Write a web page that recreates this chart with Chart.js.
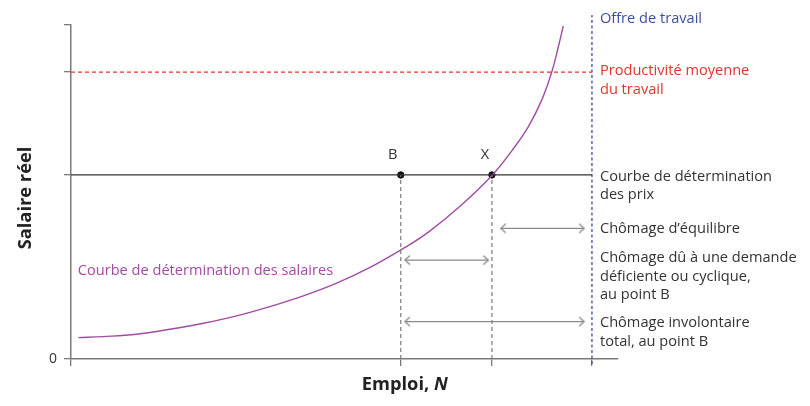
<!DOCTYPE html>
<html><head><meta charset="utf-8">
<script src="https://cdn.jsdelivr.net/npm/chart.js@4/dist/chart.umd.min.js"></script>
<style>html,body{margin:0;padding:0;background:#fff}#wrap{width:810px;height:406px;position:relative}</style>
</head><body><div id="wrap"><canvas id="c"></canvas></div>
<script>
// Wage-setting curve
const wageX = [1.4, 6.2, 12.6, 19.0, 25.4, 31.8, 38.2, 44.6, 51.0, 57.4, 63.8, 68.6, 75.0, 80.9, 84.6, 87.8, 90.35, 92.3, 93.55, 94.5];
const wageY = [6.4, 6.7, 7.4, 8.9, 10.7, 12.9, 15.7, 18.9, 22.7, 27.4, 33.1, 38.0, 46.2, 55.1, 62.3, 69.6, 77.5, 86.0, 93.5, 99.7];
const priceSettingWage = 55.1;
const avgProductivity = 85.9;
const laborSupply = 100;
const employmentB = 63.3;
const employmentX = 80.8;
const yTickValues = [0, 55.1, 85.9, 100];
const xTickValues = [0, 63.3, 80.8, 100];
const arrowFrom = [82.5, 64.1, 64.1];
const arrowTo = [98.5, 80.1, 98.5];
const arrowY = [39.1, 29.6, 11.2];
const rightLabels = [
  ["Chômage d’équilibre"],
  ["Chômage dû à une demande", "déficiente ou cyclique,", "au point B"],
  ["Chômage involontaire", "total, au point B"]
];

const FONT = '"Open Sans", "Noto Sans", sans-serif';
const GREY = '#7a7a7a';
const PURPLE = '#a24ba3';
const RED = '#e3342c';
const BLUE = '#3d4ea0';
const DARK = '#333333';

function chevron(){
  const c = document.createElement('canvas');
  c.width = 16; c.height = 12;
  const g = c.getContext('2d');
  g.strokeStyle = '#8a8a8a'; g.lineWidth = 1.3;
  g.beginPath(); g.moveTo(3, 1.5); g.lineTo(8, 6); g.lineTo(3, 10.5); g.stroke();
  return c;
}
const chev = chevron();

const datasets = [];
// price-setting curve
datasets.push({data:[{x:0,y:priceSettingWage},{x:laborSupply,y:priceSettingWage}], showLine:true, borderColor:DARK, borderWidth:1.3, pointRadius:0});
// average productivity
datasets.push({data:[{x:0,y:avgProductivity},{x:laborSupply,y:avgProductivity}], showLine:true, borderColor:RED, borderWidth:1.2, borderDash:[4,3], pointRadius:0});
// labour supply
datasets.push({data:[{x:laborSupply,y:-1.5},{x:laborSupply,y:103}], showLine:true, borderColor:BLUE, borderWidth:1.3, borderDash:[3,2.5], pointRadius:0, clip:false});
// vertical guides at B and X
[employmentB, employmentX].forEach(v=>{
  datasets.push({data:[{x:v,y:0},{x:v,y:priceSettingWage}], showLine:true, borderColor:GREY, borderWidth:1.2, borderDash:[4,3], pointRadius:0});
});
// arrows
arrowY.forEach((y,i)=>{
  datasets.push({data:[{x:arrowFrom[i],y},{x:arrowTo[i],y}], showLine:true, borderColor:'#8a8a8a', borderWidth:1.2,
    pointStyle:chev, pointRadius:6, pointRotation:[180,0], pointHoverRadius:6});
});
// wage-setting curve
datasets.push({data:wageX.map((x,i)=>({x,y:wageY[i]})), showLine:true, borderColor:PURPLE, borderWidth:1.4, pointRadius:0, tension:0.4});
// points B and X
datasets.push({data:[{x:employmentB,y:priceSettingWage},{x:employmentX,y:priceSettingWage}], showLine:false, pointRadius:3.2, pointBackgroundColor:'#111', pointBorderColor:'#111'});

const textPlugin = {
  id:'texts',
  afterDatasetsDraw(chart){
    const ctx = chart.ctx, xs = chart.scales.x, ys = chart.scales.y;
    ctx.save();
    ctx.textBaseline = 'middle';
    const lx = xs.getPixelForValue(laborSupply) + 8;
    const put = (t, x, y, color, font, align) => { ctx.fillStyle = color; ctx.font = font; ctx.textAlign = align || 'left'; ctx.fillText(t, x, y); };
    const f = '14.6px ' + FONT;
    const lh = 18.3;
    put('Offre de travail', lx, ys.getPixelForValue(101.8), BLUE, f);
    const py = ys.getPixelForValue(avgProductivity);
    put('Productivité moyenne', lx, py - 1, RED, f);
    put('du travail', lx, py - 1 + lh, RED, f);
    const cy = ys.getPixelForValue(priceSettingWage);
    put('Courbe de détermination', lx, cy + 1.5, DARK, f);
    put('des prix', lx, cy + 1.5 + lh, DARK, f);
    rightLabels.forEach((lines, i)=>{
      const y0 = ys.getPixelForValue(arrowY[i]);
      const start = i===1 ? y0 - 2 : (i===2 ? y0 + 1.6 : y0);
      lines.forEach((t,j)=> put(t, lx, start + j*lh, DARK, f));
    });
    put('B', xs.getPixelForValue(employmentB) - 8, cy - 20, DARK, f, 'center');
    put('X', xs.getPixelForValue(employmentX) - 7, cy - 20, DARK, f, 'center');
    put('Courbe de détermination des salaires', xs.getPixelForValue(1.3), ys.getPixelForValue(26.4), PURPLE, f);
    // axis titles
    const tf = 'bold 18.3px ' + FONT, tfi = 'italic bold 18.3px ' + FONT;
    ctx.font = tf;
    ctx.fillStyle = '#222';
    const ey = 385;
    const ex = (xs.getPixelForValue(63.3) + 4);
    const w1 = ctx.measureText('Emploi, ').width;
    ctx.font = tfi;
    const w2 = ctx.measureText('N').width;
    const sx = ex - (w1 + w2)/2;
    ctx.font = tf; ctx.textAlign = 'left';
    ctx.fillText('Emploi, ', sx, ey);
    ctx.font = tfi;
    ctx.fillText('N', sx + w1, ey);
    ctx.translate(26, 198);
    ctx.rotate(-Math.PI/2);
    ctx.font = tf; ctx.textAlign = 'center';
    ctx.fillText('Salaire réel', 0, 0);
    ctx.restore();
  }
};

new Chart(document.getElementById('c'), {
  type:'scatter',
  data:{datasets},
  options:{
    responsive:true, maintainAspectRatio:false, animation:false,
    events:[],
    layout:{padding:{left:0, right:192, top:25, bottom:0}},
    plugins:{legend:{display:false}, tooltip:{enabled:false}},
    elements:{line:{fill:false}},
    scales:{
      x:{type:'linear', min:0, max:105,
        afterBuildTicks:s=>{ s.ticks = xTickValues.map(v=>({value:v})); },
        afterFit:s=>{ s.height = 47; },
        ticks:{callback:()=>'' , autoSkip:false},
        grid:{drawOnChartArea:false, drawTicks:true, tickLength:7, color:GREY, lineWidth:1.3},
        border:{color:GREY, width:1.5}
      },
      y:{type:'linear', min:0, max:100,
        afterBuildTicks:s=>{ s.ticks = yTickValues.map(v=>({value:v})); },
        afterFit:s=>{ s.width = 71; },
        ticks:{callback:v=> v===0 ? '0' : '', autoSkip:false, padding:7, color:DARK, font:{family:FONT, size:14}},
        grid:{drawOnChartArea:false, drawTicks:true, tickLength:7, color:GREY, lineWidth:1.3},
        border:{color:GREY, width:1.5}
      }
    }
  },
  plugins:[textPlugin]
});
</script>
</body></html>
